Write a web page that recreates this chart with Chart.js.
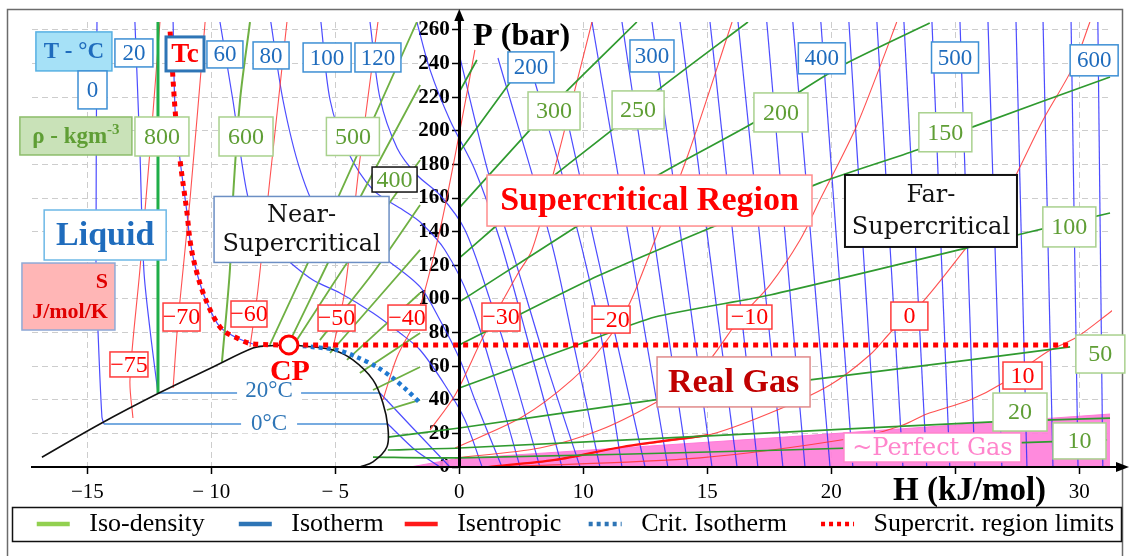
<!DOCTYPE html>
<html>
<head>
<meta charset="utf-8">
<script src="https://cdn.jsdelivr.net/npm/chart.js@4.4.1/dist/chart.umd.min.js"></script>
<style>
html,body{margin:0;padding:0;background:#fff;}
#wrap{position:relative;width:1130px;height:556px;}
</style>
</head>
<body>
<div id="wrap"><canvas id="c" width="1130" height="556"></canvas></div>
<script>
// ---------- axes ----------
const xTickValues = [-15, -10, -5, 0, 5, 10, 15, 20, 25];
const xTickLabels = ['−15', '− 10', '− 5', '0', '10', '15', '20', '', '30'];
const yTickValues = [0, 10, 20, 30, 40, 50, 60, 70, 80, 90, 100, 110, 120, 130, 140, 150, 160, 170, 180, 190, 200, 210, 220, 230, 240, 250, 260];

// ---------- saturation dome and critical point ----------
const dome = [[-16.83,5.8],[-14.49,25.6],[-12.11,44.0],[-9.93,59.5],[-8.32,70.8],[-7.76,72.0],[-6.87,72.6],
  [-6.31,72.0],[-5.09,69.6],[-4.29,63.7],[-3.48,51.8],[-3.08,38.1],[-2.88,23.8],[-2.92,11.9],[-3.48,3.0],[-4.01,0]];
const critPoint = [[-6.87, 72.6]];

// supercritical region boundary: critical isotherm above Pc, then P = Pc
const supercritLimit = [[-11.66,259],[-11.46,212.4],[-11.26,182.6],[-10.98,151.1],[-10.86,135],[-10.58,115.4],
  [-10.17,97.6],[-9.65,83.3],[-8.96,76.7],[-8.32,73.2],[-6.87,72.6],[24.7,72.6]];
// critical isotherm below Pc (vapour side)
const critIsotherm = [[-6.31,72.0],[-4.93,69.6],[-4.13,65.4],[-3.32,59.5],[-2.68,52.9],[-2.12,45.8],[-1.58,38.1]];

// ---------- isotherms (every 20 °C) ----------
const isothermsInDome = [
  [[-14.33,25.6],[-2.9,25.6]],   // 0 °C
  [[-12.15,44.0],[-3.2,44.0]]    // 20 °C
];
const isothermsLiquid = [
  [[-14.61,264.7],[-14.65,119],[-14.57,81.5],[-14.41,29.7],[-14.33,25.6]],
  [[-13.08,264.7],[-12.88,188.6],[-12.72,117.2],[-12.47,81.5],[-12.15,44.0]],
  [[-11.54,264.7],[-11.46,212.4],[-11.26,182.6],[-10.98,151.1],[-10.86,135],[-10.58,115.4],[-10.17,97.6],[-9.65,83.3],[-8.96,76.7],[-8.32,73.2]]
];
const isothermsVapour = [
  [[-2.88,25.6],[-1.78,10.1],[-0.78,0]],
  [[-3.2,44.0],[-1.99,25],[-0.38,0]]
];
const isothermsNearCritical = [
  [[-9.65,264.7],[-9.13,218.3],[-8.56,163],[-7.96,135],[-6.95,123.1],[-5.9,111.2],[-4.81,103.5],[-3.48,91.6],[-2.39,79.7],[-1.58,69.6],[-0.58,48.8],[0.23,28],[0.92,0]],
  [[-7.6,264.7],[-7.11,218.3],[-6.42,176.7],[-5.62,149.9],[-4.13,135],[-2.92,123.1],[-1.58,107.1],[-0.78,87.4],[0.03,63.7],[0.63,39.9],[1.72,0]],
  [[-5.58,264.7],[-5.21,218.3],[-4.53,188.6],[-3.48,164.8],[-2.27,152.9],[-1.58,145.7],[-0.58,129.1],[0.43,99.3],[1.44,51.8],[2.45,0]],
  [[-3.6,264.7],[-3.2,219.5],[-2.51,189.8],[-1.71,173.7],[-0.78,161.8],[0.23,141],[1.24,99.3],[2.25,51.8],[3.25,0]],
  [[-1.71,264.7],[-1.18,236.2],[-0.38,206.4],[0.63,176.7],[1.64,135],[2.65,81.5],[4.14,0]],
  [[0.03,243.3],[1.16,175.5],[2.25,123.1],[3.46,63.7],[4.87,0]],
  [[1.56,243.3],[3.74,132.1],[4.66,69.6],[5.67,0]],
  [[3.05,229],[4.66,146.9],[5.67,81.5],[6.56,0]],
  [[4.18,218.3],[5.47,132.1],[7.49,0]]
];
const isothermsGas = [
  [[5.35,264.7],[8.41,0]], [[6.56,264.7],[9.22,0]], [[7.77,264.7],[10.19,0]], [[8.9,264.7],[11.2,0]],
  [[10.11,264.7],[12.04,0]], [[11.24,264.7],[13.05,0]], [[12.4,264.7],[13.94,0]], [[13.45,264.7],[14.95,0]],
  [[14.58,264.7],[15.87,0]], [[15.71,264.7],[16.84,0]], [[16.84,264.7],[17.89,0]], [[17.93,264.7],[18.85,0]],
  [[19.06,264.7],[19.78,0]], [[20.19,264.7],[20.79,0]], [[21.32,264.7],[21.88,0]], [[22.45,264.7],[22.89,0]],
  [[23.54,264.7],[23.94,0]], [[24.67,264.7],[24.95,0]], [[25.75,264.7],[25.95,0]]
];

// ---------- isentropes ----------
const isentropes = [
  [[-13.16,29.1],[-13.28,51.8],[-12.88,117.2],[-12.47,188.6],[-12.07,264.7]],
  [[-11.54,47],[-11.34,87.4],[-10.86,158.8],[-10.25,264.7]],
  [[-8.44,71.4],[-8.12,105.3],[-7.64,170.7],[-6.95,264.7]],
  [[-5.09,70.8],[-4.61,105.3],[-4.01,182.6],[-3.28,264.7]],
  [[-3.08,39.9],[-2.51,65.4],[-1.71,89.2],[-0.78,141],[0.03,200.5],[0.63,248.1]],
  [[-1.18,22],[-0.17,42.8],[0.96,77.3],[2.33,114.2],[2.93,129.1],[3.78,173.7],[5.35,264.7]],
  [[-0.17,11.3],[2.53,29.7],[4.54,51.8],[5.75,71.4],[6.8,95.2],[7.89,135],[9.22,185.6],[11.0,264.7]],
  [[-0.17,5.4],[3.25,11.3],[5.67,22],[7.89,38.1],[9.3,51.8],[10.19,65.4],[11.32,88.6],[12.53,108.3],[13.74,135],[14.54,158.8],[15.95,200.5],[16.96,238],[17.64,264.7]],
  [[1.16,0],[3.86,4.2],[6.56,11.9],[10.03,19],[12.53,32.1],[14.95,48.8],[16.55,66.6],[17.48,81.5],[18.69,98.2],[20.47,130.9],[21.8,155.9],[22.49,174.9],[23.54,206.4],[24.75,238],[25.43,264.7]],
  [[1.64,0],[9.71,5.4],[16.15,17.8],[17.89,25],[18.85,31.5],[20.59,39.9],[21.92,50],[23.7,68.4],[24.91,77.3],[26.36,93.4]]
];
const isentropeBold = [[1.16,0],[3.86,4.2],[6.56,11.9],[10.03,19]];

// ---------- iso-density lines ----------
const density800 = [[-12.15,264.7],[-12.15,44.0]];
const densityLiquidSide = [
  [[-8.44,264.7],[-8.84,218.3],[-9.13,158.8],[-9.25,117.2],[-9.57,62.5]]
];
const densityNearCritical = [
  [[-7.64,72.6],[-4.9,160],[-1.71,264.7]],
  [[-6.75,77.3],[-4.01,160],[-1.58,227.2]],
  [[-6.55,75.5],[-4.53,121.4],[-1.58,182.6]],
  [[-5.62,75.5],[-3.48,115.4],[-1.58,155.9]],
  [[-5.21,67.8],[-1.58,129.1]],
  [[-4.53,63.7],[-1.58,103.5]],
  [[-4.01,55.9],[-1.58,79.7]],
  [[-3.48,45.8],[-1.58,59.5]],
  [[-2.92,33.9],[-1.58,39.9]]
];
const densityGasSide = [
  [[0,223.1],[0.71,242.1]],
  [[0,187.4],[2.65,240.9]],
  [[0,154.1],[2.85,200.5],[4.38,224.3],[7.16,264.7]],
  [[0,124.3],[3.86,173.7],[6.16,200.5],[8.01,224.3],[11.64,264.7]],
  [[0,98.2],[7.89,172.5],[11.92,205.2],[13.65,222.5],[15.63,240.3],[18.97,264.1]],
  [[0,72.6],[5.67,114.2],[14.54,169],[18.45,188.6],[20.71,202.3],[26.24,232]],
  [[0,47],[4.54,71.4],[7.89,89.2],[12.53,102.3],[20.47,130.3],[22.49,138],[26.24,151.1]],
  [[-2.88,17.8],[0,23.2],[7.89,39.9],[14.14,51.8],[20.59,63.7],[24.63,71.4]],
  [[-2.88,10.1],[0,11.3],[13.13,20.8],[21.52,26.8],[26.24,29.1]],
  [[-3.48,5.9],[0,5.4],[13.13,10.1],[26.12,16.1]]
];

// ---------- ~perfect gas zone (upper edge) ----------
const perfectGasEdge = [[-1.98,0],[-0.17,4.8],[13.13,17.8],[26.24,31.5]];

// ---------- text annotations (centre in data units, box size in px) ----------
const labelStyles = {
  iso:     {font:'23px "Liberation Serif"', color:'#1f6cbd', border:'#3d8fd4', lw:1.5, fill:'#fff'},
  isoHead: {font:'bold 23px "Liberation Serif"', color:'#1f6cbd', border:'#57b0e3', lw:1.5, fill:'#a6e1f7'},
  tc:      {font:'bold 27px "Liberation Serif"', color:'#ff0000', border:'#2e75b6', lw:3, fill:'#fff'},
  rho:     {font:'24px "Liberation Serif"', color:'#5f9e35', border:'#a9d18e', lw:1.5, fill:'#fff'},
  rhoDark: {font:'24px "Liberation Serif"', color:'#5f9e35', border:'#111', lw:1.5, fill:'#fff'},
  rhoHead: {font:'bold 23px "Liberation Serif"', color:'#5f9e35', border:'#8cbd6a', lw:1.5, fill:'#c9e2b8'},
  s:       {font:'24px "Liberation Serif"', color:'#ff0000', border:'#ff3b3b', lw:1.5, fill:'#fff'},
  sHead:   {font:'bold 22px "Liberation Serif"', color:'#e00000', border:'#8fa9d6', lw:1.5, fill:'#ffb6b6', align:'right'},
  liquid:  {font:'bold 34px "Liberation Serif"', color:'#1f6cbd', border:'#6cb8e6', lw:1.5, fill:'#fff'},
  near:    {font:'24px "DejaVu Serif"', color:'#111', border:'#6c8fc4', lw:1.5, fill:'#fff'},
  region:  {font:'bold 34px "Liberation Serif"', color:'#ff0000', border:'#ff8c8c', lw:1.5, fill:'#fff'},
  far:     {font:'24px "DejaVu Serif"', color:'#111', border:'#111', lw:2, fill:'#fff'},
  real:    {font:'bold 34px "Liberation Serif"', color:'#c00000', border:'#e08a8a', lw:1.5, fill:'#fff'},
  perfect: {font:'24px "DejaVu Serif"', color:'#ff85cc', border:'#ff85cc', lw:1.5, fill:'#fff'},
  cp:      {font:'bold 30px "Liberation Serif"', color:'#ff0000'},
  domeT:   {font:'23px "Liberation Serif"', color:'#2e75b6', fill:'#fff'}
};
const textLabels = [
  {t:'T - °C', x:-15.54, y:247.2, w:76, h:39, s:'isoHead'},
  {t:'0', x:-14.79, y:224.3, w:29, h:38, s:'iso'},
  {t:'20', x:-13.12, y:246.3, w:38, h:28, s:'iso'},
  {t:'Tc', x:-11.06, y:245.7, w:38, h:34, s:'tc'},
  {t:'60', x:-9.45, y:245.4, w:36, h:27, s:'iso'},
  {t:'80', x:-7.59, y:244.8, w:36, h:27, s:'iso'},
  {t:'100', x:-5.33, y:243.6, w:48, h:29, s:'iso'},
  {t:'120', x:-3.28, y:243.6, w:46, h:29, s:'iso'},
  {t:'200', x:2.89, y:237.7, w:46, h:31, s:'iso'},
  {t:'300', x:7.77, y:244.5, w:44, h:32, s:'iso'},
  {t:'400', x:14.62, y:243.1, w:47, h:31, s:'iso'},
  {t:'500', x:19.99, y:243.6, w:47, h:31, s:'iso'},
  {t:'600', x:25.6, y:241.9, w:48, h:31, s:'iso'},
  {t:'ρ - kgm', sup:'-3', x:-15.46, y:196.9, w:112, h:38, s:'rhoHead'},
  {t:'800', x:-11.99, y:196.6, w:54, h:39, s:'rho'},
  {t:'600', x:-8.6, y:196.6, w:54, h:39, s:'rho'},
  {t:'500', x:-4.29, y:196.6, w:53, h:38, s:'rho'},
  {t:'400', x:-2.61, y:171.0, w:45, h:25, s:'rhoDark'},
  {t:'300', x:3.82, y:211.8, w:52, h:38, s:'rho'},
  {t:'250', x:7.21, y:212.4, w:52, h:38, s:'rho'},
  {t:'200', x:12.97, y:210.9, w:54, h:39, s:'rho'},
  {t:'150', x:19.6, y:199.1, w:53, h:39, s:'rho'},
  {t:'100', x:24.6, y:142.8, w:53, h:40, s:'rho'},
  {t:'50', x:25.85, y:67.2, w:49, h:38, s:'rho'},
  {t:'20', x:22.61, y:32.7, w:54, h:38, s:'rho'},
  {t:'10', x:25.01, y:15.5, w:53, h:36, s:'rho'},
  {t:'S\nJ/mol/K', x:-15.76, y:101.4, w:93, h:67, s:'sHead'},
  {t:'−75', x:-13.32, y:61.0, w:38, h:25, s:'s'},
  {t:'−70', x:-11.2, y:89.2, w:37, h:28, s:'s'},
  {t:'−60', x:-8.48, y:91.0, w:36, h:26, s:'s'},
  {t:'−50', x:-4.95, y:88.6, w:37, h:26, s:'s'},
  {t:'−40', x:-2.11, y:88.9, w:38, h:25, s:'s'},
  {t:'−30', x:1.68, y:89.2, w:38, h:28, s:'s'},
  {t:'−20', x:6.12, y:87.7, w:38, h:27, s:'s'},
  {t:'−10', x:11.7, y:89.2, w:45, h:24, s:'s'},
  {t:'0', x:18.15, y:89.8, w:37, h:28, s:'s'},
  {t:'10', x:22.71, y:54.4, w:39, h:27, s:'s'},
  {t:'Liquid', x:-14.28, y:138.0, w:122, h:50, s:'liquid'},
  {t:'Near-\nSupercritical', x:-6.36, y:141.3, w:175, h:66, s:'near'},
  {t:'Supercritical Region', x:7.67, y:158.5, w:325, h:51, s:'region'},
  {t:'Far-\nSupercritical', x:19.02, y:152.3, w:172, h:72, s:'far'},
  {t:'Real Gas', x:11.06, y:50.6, w:153, h:50, s:'real'},
  {t:'~Perfect Gas', x:19.08, y:11.6, w:177, h:29, s:'perfect'},
  {t:'CP', x:-6.83, y:57.1, s:'cp'},
  {t:'20°C', x:-7.67, y:45.6, w:64, h:20, s:'domeT'},
  {t:'0°C', x:-7.67, y:26.0, w:56, h:20, s:'domeT'}
];

// ---------- legend ----------
const legendEntries = [
  {text:' Iso-density    ', color:'#92d050', dash:[]},
  {text:' Isotherm  ', color:'#2e75b6', dash:[]},
  {text:' Isentropic   ', color:'#ff1a1a', dash:[]},
  {text:' Crit. Isotherm    ', color:'#2e75b6', dash:[4, 4]},
  {text:' Supercrit. region limits', color:'#ff0000', dash:[4, 4]}
];

// ---------- build datasets ----------
const pts = arr => arr.map(p => ({x: p[0], y: p[1]}));
const datasets = [];
function addLine(points, color, width, order, extra) {
  datasets.push(Object.assign({
    data: pts(points), showLine: true, borderColor: color, backgroundColor: color,
    borderWidth: width, pointRadius: 0, fill: false, tension: 0.3, order: order
  }, extra || {}));
}
addLine(perfectGasEdge, 'rgba(255,120,215,0.95)', 1, 100,
  {fill: 'origin', backgroundColor: 'rgba(255,128,218,0.92)', tension: 0});
isothermsGas.forEach(l => addLine(l, 'rgba(45,45,255,0.85)', 1.2, 60, {tension: 0}));
isothermsNearCritical.forEach(l => addLine(l, 'rgba(45,45,255,0.85)', 1.2, 60));
isothermsLiquid.forEach(l => addLine(l, 'rgba(45,45,255,0.85)', 1.2, 60));
isothermsVapour.forEach(l => addLine(l, 'rgba(45,45,255,0.85)', 1.2, 60));
isothermsInDome.forEach(l => addLine(l, '#4a8fd6', 1.6, 58, {tension: 0}));
isentropes.forEach(l => addLine(l, 'rgba(255,50,50,0.85)', 1.1, 50));
addLine(isentropeBold, '#ff1010', 2.2, 49);
addLine(density800, '#1fae48', 3, 40, {tension: 0});
densityLiquidSide.forEach(l => addLine(l, '#6fb043', 2, 40));
densityNearCritical.forEach(l => addLine(l, '#6fb043', 1.8, 40, {tension: 0.2}));
densityGasSide.forEach(l => addLine(l, '#2f9a2f', 1.7, 40, {tension: 0.2}));
addLine(dome, '#111', 1.6, 20, {tension: 0.35});
addLine(critIsotherm, '#1f78d1', 4.5, 12, {borderDash: [4, 4]});
addLine(supercritLimit, '#ff0000', 5, 10, {borderDash: [5, 5], cubicInterpolationMode: 'monotone'});
datasets.push({data: pts(critPoint), showLine: false, pointRadius: 9, pointBorderWidth: 3,
  pointBorderColor: '#ff0000', pointBackgroundColor: '#fff', order: 1});

// ---------- drawing helpers ----------
function drawTextLabels(chart) {
  const ctx = chart.ctx, xs = chart.scales.x, ys = chart.scales.y;
  textLabels.forEach(L => {
    const st = labelStyles[L.s];
    const cx = xs.getPixelForValue(L.x), cy = ys.getPixelForValue(L.y);
    ctx.save();
    if (L.w && st.fill) { ctx.fillStyle = st.fill; ctx.fillRect(cx - L.w / 2, cy - L.h / 2, L.w, L.h); }
    if (L.w && st.border) {
      ctx.strokeStyle = st.border; ctx.lineWidth = st.lw;
      ctx.strokeRect(cx - L.w / 2, cy - L.h / 2, L.w, L.h);
    }
    ctx.font = st.font; ctx.fillStyle = st.color; ctx.textBaseline = 'middle';
    const lines = L.t.split('\n');
    const lh = lines.length > 1 ? (L.h - 8) / lines.length : 0;
    lines.forEach((txt, i) => {
      const yy = cy + (i - (lines.length - 1) / 2) * lh + 1;
      if (st.align === 'right') {
        ctx.textAlign = 'right'; ctx.fillText(txt, cx + L.w / 2 - 7, yy);
      } else if (L.sup) {
        const w1 = ctx.measureText(txt).width;
        ctx.save(); ctx.font = st.font.replace(/\d+px/, '15px');
        const w2 = ctx.measureText(L.sup).width; ctx.restore();
        const x0 = cx - (w1 + w2) / 2;
        ctx.textAlign = 'left'; ctx.fillText(txt, x0, yy);
        ctx.font = st.font.replace(/\d+px/, '15px'); ctx.fillText(L.sup, x0 + w1, yy - 7);
      } else {
        ctx.textAlign = 'center'; ctx.fillText(txt, cx, yy);
      }
    });
    ctx.restore();
  });
}

const decor = {
  id: 'decor',
  beforeDraw(chart) {
    const ctx = chart.ctx;
    ctx.save();
    ctx.fillStyle = '#fff'; ctx.fillRect(0, 0, chart.width, chart.height);
    ctx.strokeStyle = '#6b6b6b'; ctx.lineWidth = 1.5;
    ctx.strokeRect(7.5, 9.5, 1115, 560);
    ctx.restore();
  },
  afterDatasetsDraw(chart) { drawTextLabels(chart); },
  afterDraw(chart) {
    const ctx = chart.ctx, a = chart.chartArea, xs = chart.scales.x;
    const x0 = xs.getPixelForValue(0), yb = a.bottom;
    ctx.save();
    ctx.fillStyle = '#000'; ctx.strokeStyle = '#000'; ctx.setLineDash([]);
    // vertical axis arrow
    ctx.lineWidth = 3; ctx.beginPath(); ctx.moveTo(x0, a.top + 2); ctx.lineTo(x0, 18); ctx.stroke();
    ctx.beginPath(); ctx.moveTo(x0, 9); ctx.lineTo(x0 - 5, 21); ctx.lineTo(x0 + 5, 21); ctx.closePath(); ctx.fill();
    // horizontal axis arrow
    ctx.lineWidth = 2; ctx.beginPath(); ctx.moveTo(a.right - 1, yb); ctx.lineTo(1118, yb); ctx.stroke();
    ctx.beginPath(); ctx.moveTo(1129, yb); ctx.lineTo(1116, yb - 5); ctx.lineTo(1116, yb + 5); ctx.closePath(); ctx.fill();
    // axis titles
    ctx.font = 'bold 32px "Liberation Serif"'; ctx.textAlign = 'left'; ctx.textBaseline = 'alphabetic';
    ctx.fillText('P (bar)', x0 + 14, 45);
    ctx.font = 'bold 33px "Liberation Serif"';
    ctx.fillText('H (kJ/mol)', 893, 500);
    // legend frame
    const lg = chart.legend;
    ctx.strokeStyle = '#111'; ctx.lineWidth = 1.5;
    ctx.strokeRect(12.5, lg.top + 4.5, 1109, 34);
    ctx.restore();
  }
};

// spacer scale so the legend row can use the full frame width
const spacer = (w) => ({
  type: 'linear', display: true, afterFit(s) { s.width = w; },
  ticks: { display: false }, grid: { display: false }, border: { display: false }
});

// ---------- chart ----------
new Chart(document.getElementById('c'), {
  type: 'scatter',
  data: { datasets: datasets },
  plugins: [decor],
  options: {
    responsive: false, animation: false, events: [],
    layout: { padding: { left: 12, right: 8, top: 22, bottom: 9 } },
    scales: {
      x: {
        type: 'linear', position: 'bottom', min: -17.23, max: 26.32,
        afterFit(s) { s.height = 36; },
        afterBuildTicks(s) { s.ticks = xTickValues.map(v => ({value: v})); },
        ticks: {
          font: { family: 'Liberation Serif', size: 21 }, color: '#000', padding: 6, maxRotation: 0,
          callback: (v) => { const i = xTickValues.indexOf(v); return i >= 0 ? xTickLabels[i] : ''; }
        },
        grid: { color: '#cdcdcd', lineWidth: 1, tickLength: 7, tickColor: '#000', tickWidth: 1.5, tickBorderDash: [], z: -1 },
        border: { color: '#000', width: 2, dash: [6, 4], z: 1 }
      },
      y: {
        type: 'linear', position: { x: 0 }, min: 0, max: 264.7,
        afterBuildTicks(s) { s.ticks = yTickValues.map(v => ({value: v})); },
        ticks: {
          font: { family: 'Liberation Serif', size: 21, weight: 'bold' }, color: '#000', padding: 2,
          callback: (v) => (v % 20 === 0 ? v + ' \u2009' : '')
        },
        grid: {
          color: (c) => (c.tick && c.tick.value % 20 === 0 ? '#cdcdcd' : 'rgba(0,0,0,0)'),
          lineWidth: 1, tickLength: 6, tickColor: '#000', tickWidth: 1.5, tickBorderDash: [], z: -1
        },
        border: { color: '#000', width: 3, dash: [6, 4], z: 1 }
      },
      padLeft: Object.assign(spacer(20), { position: 'left', axis: 'y' }),
      padRight: Object.assign(spacer(10), { position: 'right', axis: 'y' })
    },
    plugins: {
      tooltip: { enabled: false },
      legend: {
        position: 'bottom', align: 'end', onClick: null,
        labels: {
          font: { family: 'Liberation Serif', size: 26 }, color: '#000', padding: 8,
          usePointStyle: true, pointStyleWidth: 33,
          generateLabels: () => legendEntries.map((e, i) => ({
            text: e.text, strokeStyle: e.color, fillStyle: e.color, lineWidth: 4.5,
            lineDash: e.dash, pointStyle: 'line', hidden: false, datasetIndex: i, fontColor: '#000'
          }))
        }
      }
    }
  }
});
</script>
</body>
</html>
